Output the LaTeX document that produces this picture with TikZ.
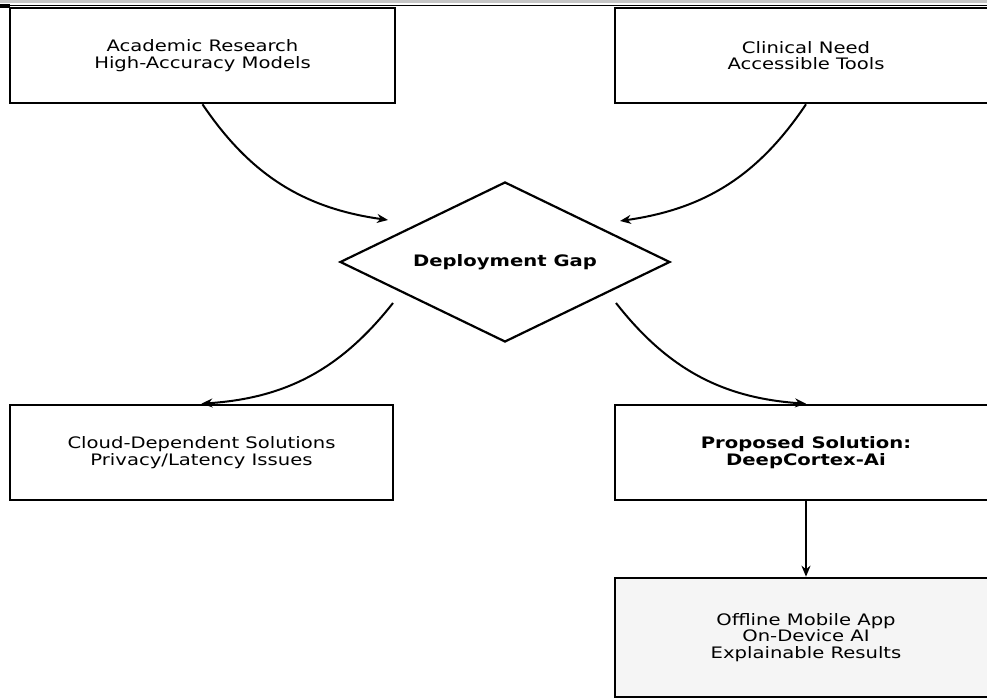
\documentclass[tikz,border=0pt]{standalone}
\usepackage{fontspec}
\setmainfont{DejaVu Sans}[FakeStretch=1.24]
\usetikzlibrary{shapes.geometric,arrows.meta}
\begin{document}
\begin{tikzpicture}[x=1pt,y=1pt,
  box/.style={draw=black,line width=2.6pt,rectangle,minimum height=95pt,align=center,
    font=\fontsize{15.8}{16.7}\selectfont,inner sep=0pt},
  gapshape/.style={draw=black,line width=2.2pt,diamond,aspect=2.0625,minimum width=330pt,minimum height=160pt,
    inner sep=0pt,font=\fontsize{15.8}{16.7}\selectfont\bfseries},
  conn/.style={line width=2pt,-{Stealth[length=11pt,width=9pt]}}]
\useasboundingbox (0,0) rectangle (987,698);
\clip (0,0) rectangle (987,698);
% top strip
\fill[gray!45] (0,695) rectangle (987,698);
\draw[line width=1.4pt] (0,692.5) -- (987,692.5);
\fill[black] (0,690) rectangle (10,694);
% nodes
\node[box,minimum width=385pt] (acad) at (202.5,642.5) {Academic Research\\High-Accuracy Models};
\node[box,minimum width=382pt] (clin) at (806,642.5) {Clinical Need\\Accessible Tools};
\node[gapshape] (gap) at (505,436) {Deployment Gap};
\node[box,minimum width=383pt] (cloud) at (201.5,245.5) {Cloud-Dependent Solutions\\Privacy/Latency Issues};
\node[box,minimum width=382pt,font=\fontsize{15.8}{16.7}\selectfont\bfseries] (prop) at (806,245.5) {Proposed Solution:\\DeepCortex-Ai};
\node[box,minimum width=382pt,minimum height=119pt,fill=gray!8] (off) at (806,60.5) {Offline Mobile App\\On-Device AI\\Explainable Results};
% connector ends
\coordinate (a1e) at (388,478);
\coordinate (a2e) at (620,477);
\coordinate (a3s) at (393,395);
\coordinate (a4s) at (616,395);
% connectors
\draw[conn] (acad.south) to[bend right=24] (a1e);
\draw[conn] (clin.south) to[bend left=24] (a2e);
\draw[conn] (a3s) to[bend left=24] (cloud.north);
\draw[conn] (a4s) to[bend right=24] (prop.north);
\draw[conn] (prop.south) -- (off.north);
\end{tikzpicture}
\end{document}
